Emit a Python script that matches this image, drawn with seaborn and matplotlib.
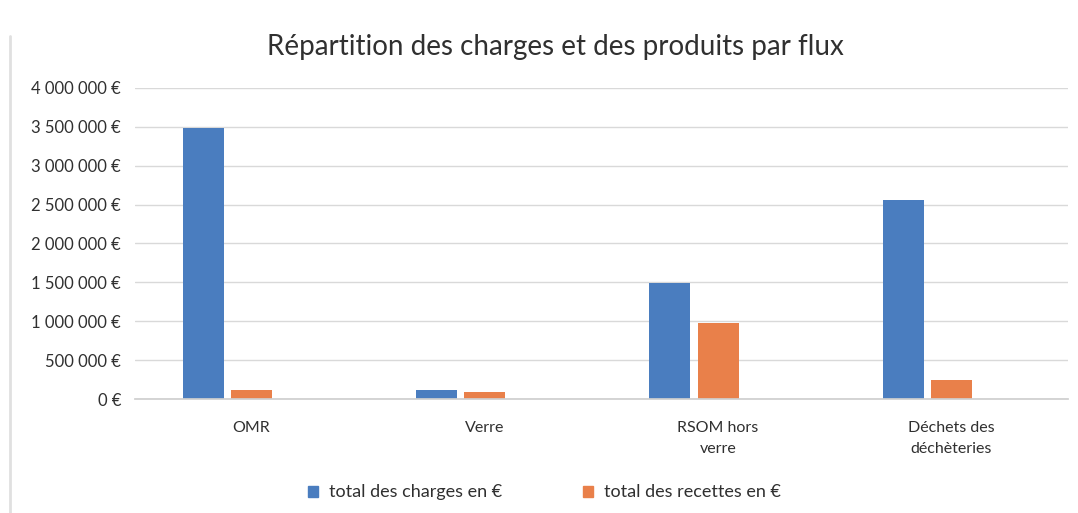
import numpy as np
import pandas as pd
import seaborn as sns
import matplotlib.pyplot as plt
from matplotlib.patches import Patch
from matplotlib.ticker import FuncFormatter

# data
flux = ["OMR", "Verre", "RSOM hors\nverre", "Déchets des\ndéchèteries"]
charges = [3480000, 110000, 1490000, 2560000]
recettes = [120000, 90000, 980000, 250000]
# the original chart keeps a third (empty) slot in each group
vide = [0, 0, 0, 0]

series = ["total des charges en €", "total des recettes en €", "vide"]
colors = ["#4A7DBF", "#E9804A", "#FFFFFF"]

df = pd.DataFrame({
    "flux": flux * 3,
    "serie": [series[0]] * 4 + [series[1]] * 4 + [series[2]] * 4,
    "valeur": charges + recettes + vide,
})

sns.set_theme(style="white")
plt.rcParams['font.family'] = ['Lato', 'DejaVu Sans']

txt = "#303030"

fig = plt.figure(figsize=(10.78, 5.13), dpi=100)
ax = fig.add_axes([0.1252, 0.2222, 0.8655, 0.6063])

sns.barplot(data=df, x="flux", y="valeur", hue="serie", hue_order=series,
            palette=dict(zip(series, colors)), width=0.62, gap=0.15,
            saturation=1, legend=False, linewidth=0, ax=ax)

ax.set_ylim(0, 4000000)
ax.set_yticks(np.arange(0, 4000001, 500000))
ax.yaxis.set_major_formatter(FuncFormatter(lambda v, p: f"{v:,.0f} €".replace(",", " ")))
ax.grid(axis="y", color="#d9d9d9", linewidth=1)
ax.set_axisbelow(True)
for s in ["top", "right", "left"]:
    ax.spines[s].set_visible(False)
ax.spines["bottom"].set_color("#cfcfcf")
ax.tick_params(axis="y", length=0, labelsize=12, labelcolor=txt, pad=10)
ax.tick_params(axis="x", length=0, labelsize=11.5, labelcolor=txt, pad=16)
for lab in ax.get_xticklabels():
    lab.set_linespacing(1.6)
ax.set_xlabel("")
ax.set_ylabel("")

fig.text(0.515, 0.908, "Répartition des charges et des produits par flux",
         ha="center", va="center", fontsize=20, color=txt)

handles = [Patch(color=colors[0]), Patch(color=colors[1])]
fig.legend(handles, series[:2], loc="center", bbox_to_anchor=(0.505, 0.04),
           ncol=2, frameon=False, fontsize=13, handlelength=0.55, handleheight=0.55,
           columnspacing=4.5, handletextpad=0.6, labelcolor=txt)

# left border of the chart frame on the scan
fig.add_artist(plt.Line2D([0.0095, 0.0095], [0.0, 0.93], color="#e0e0e0", linewidth=2))

fig.savefig("out.png", dpi=100)
